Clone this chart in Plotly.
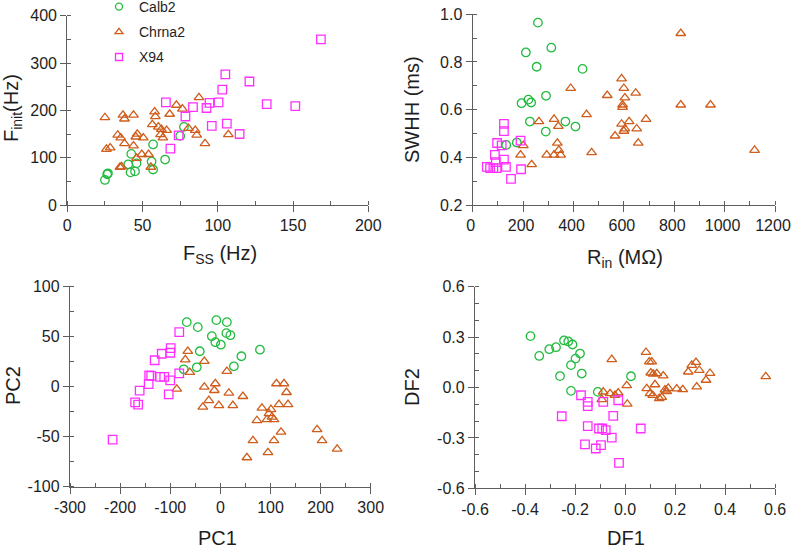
import plotly.graph_objects as go

# ---------------- data ----------------
groups = ["Calb2", "Chrna2", "X94"]

# Panel A: F_SS (Hz) vs F_init (Hz)
fss_calb2 = [25, 26.5, 27, 40.5, 42.5, 42, 45, 46, 56, 57, 57, 65, 75, 77.5]
finit_calb2 = [53, 65, 67, 86, 108, 69, 71, 88, 92, 128, 75, 96, 146, 165]
fss_chrna2 = [25, 37, 38, 44, 58, 58.5, 68, 72.5, 76.5, 87.5, 56.5, 60.5, 62.5, 66, 62, 63.5,
              33.5, 35.5, 46.5, 45.5, 50.5, 38, 44, 26, 28.5, 49.5, 54, 46, 35, 36, 55.5,
              80.5, 85, 86, 91.5, 107]
finit_chrna2 = [185, 190, 182, 190, 197, 187, 192, 211, 203, 227, 170, 165, 160, 158, 149, 142,
                148, 142, 150, 144, 142, 130, 125, 118, 121, 107, 107, 99, 80, 81, 80,
                162, 158, 148, 130, 149]
fss_x94 = [65.5, 68.5, 74, 78.5, 83.5, 92.5, 94.5, 100.5, 103, 105, 96, 106, 114.5, 121, 132.5, 151.5, 168.5]
finit_x94 = [217, 119, 147, 187, 207, 205, 216, 217, 244, 276, 167, 172, 150, 261, 213, 209, 350]

# Panel B: R_in (MOhm) vs SWHH (ms)
rin_calb2 = [259, 211, 312, 254, 436, 194, 221, 232, 291, 227, 368, 408, 290, 133, 175]
swhh_calb2 = [0.965, 0.840, 0.860, 0.780, 0.771, 0.627, 0.642, 0.630, 0.658, 0.550, 0.550, 0.529, 0.508, 0.452, 0.462]
rin_chrna2 = [826, 389, 263, 323, 340, 452, 336, 342, 349, 323, 294, 190, 201, 234, 472, 591, 600,
              534, 647, 604, 595, 595, 688, 621, 591, 604, 651, 600, 565, 657, 826, 944, 1119]
swhh_chrna2 = [0.92, 0.69, 0.55, 0.56, 0.53, 0.58, 0.46, 0.43, 0.41, 0.41, 0.41, 0.41, 0.45, 0.37, 0.42,
               0.73, 0.69, 0.66, 0.67, 0.65, 0.62, 0.61, 0.56, 0.55, 0.54, 0.52, 0.52, 0.51, 0.49, 0.46,
               0.62, 0.62, 0.43]
rin_x94 = [124, 124, 97, 115, 190, 88, 124, 92, 56, 69, 82, 95, 132, 192, 152]
swhh_x94 = [0.54, 0.51, 0.46, 0.45, 0.47, 0.41, 0.39, 0.38, 0.36, 0.355, 0.355, 0.355, 0.36, 0.35, 0.31]

# Panel C: PC1 vs PC2
pc1_calb2 = [-67, -45, -8, 13, 12, 20, -17, -10, 1, -41, 79, 42, 27, -47, -73]
pc2_calb2 = [64, 59, 66, 64, 53, 51, 50, 44, 41.5, 35, 36.5, 30, 20, 19, 17]
pc1_chrna2 = [-65, -70, -32, -61, 13, -87, -32, -10, -12, -35, -23, -3, 17, 25, 45, 83, 73, 97, 103,
              93, 107, 117, 135, 101, 112, 127, 132, 121, 107, 65, 53, 95, 193, 203, 233]
pc2_chrna2 = [35, 26.6, 25, 14, 15, -2.7, -0.7, 2.7, -4, -20.6, -14, -19, -6.6, -19, -10, -21.6, -34,
              -27, -30.5, -33, -33, -18, -18, -23, 2.7, 2.7, -6, -45.5, -54, -54, -71, -66, -43, -54, -62.5]
pc1_x94 = [-82, -99, -100, -117, -131, -142, -138, -143, -120, -112, -100, -82, -103, -161, -170, -164, -215]
pc2_x94 = [54, 38, 33.5, 32.5, 26, 11, 10.5, 2.3, 9.5, 9.5, 6, 13, -8, -4.3, -16, -18.3, -53]

# Panel D: DF1 vs DF2
df1_calb2 = [-0.378, -0.343, -0.303, -0.276, -0.244, -0.227, -0.210, -0.180, -0.198, -0.216,
             -0.173, -0.260, -0.216, -0.109, 0.024]
df2_calb2 = [0.306, 0.188, 0.228, 0.240, 0.280, 0.274, 0.256, 0.202, 0.172, 0.133,
             0.083, 0.068, -0.020, -0.026, 0.067]
df1_chrna2 = [-0.053, -0.093, -0.087, -0.06, -0.04, -0.027, 0.007, 0.009, 0.084, 0.097, 0.107, 0.103,
              0.113, 0.127, 0.153, 0.12, 0.087, 0.1, 0.111, 0.137, 0.147, 0.16, 0.167, 0.173, 0.207,
              0.231, 0.253, 0.267, 0.284, 0.297, 0.287, 0.324, 0.34, 0.563]
df2_chrna2 = [0.167, -0.071, -0.026, -0.036, -0.046, -0.032, 0.012, -0.098, 0.21, 0.153, 0.153, 0.087,
              0.08, 0.083, 0.07, 0.017, -0.006, -0.036, -0.046, -0.065, -0.058, -0.014, -0.024, -0.004,
              -0.008, -0.012, 0.093, 0.133, 0.15, 0.103, 0.004, 0.044, 0.085, 0.065]
df1_x94 = [-0.176, -0.149, -0.149, -0.087, -0.027, -0.253, -0.047, -0.149, -0.104, -0.091, -0.077,
           -0.053, -0.160, -0.096, -0.117, -0.024, 0.063]
df2_x94 = [-0.046, -0.086, -0.111, -0.086, -0.076, -0.171, -0.169, -0.230, -0.244, -0.244, -0.254,
           -0.298, -0.338, -0.343, -0.363, -0.449, -0.244]

# tick labels
ticks_a_x = [0, 50, 100, 150, 200]
ticks_a_y = [0, 100, 200, 300, 400]
ticks_b_x = [0, 200, 400, 600, 800, 1000, 1200]
ticks_b_y = [0.2, 0.4, 0.6, 0.8, 1.0]
ticks_c_x = [-300, -200, -100, 0, 100, 200, 300]
ticks_c_y = [-100, -50, 0, 50, 100]
ticks_d_x = [-0.6, -0.4, -0.2, 0.0, 0.2, 0.4, 0.6]
ticks_d_y = [-0.6, -0.3, 0.0, 0.3, 0.6]

# ---------------- style ----------------
W, H = 792, 550
COL = {"Calb2": "#22bb3f", "Chrna2": "#cf5d1c", "X94": "#ff30ff"}
SYM = {"Calb2": "circle-open", "Chrna2": "triangle-up-open", "X94": "square-open"}
SIZE = {"Calb2": 8.5, "Chrna2": 8.5, "X94": 8.5}
AX = "#5e5e5e"
TXT = "#1e1e1e"
FONT = "Arial, 'Liberation Sans', sans-serif"


def fmt(v, dec):
    return f"{v:.{dec}f}"  # plain hyphen minus like the reference


panels = [
    ("", {"Calb2": (fss_calb2, finit_calb2), "Chrna2": (fss_chrna2, finit_chrna2), "X94": (fss_x94, finit_x94)},
     ticks_a_x, ticks_a_y, 0, 0, 25, 50, (67.3, 368.3), (15.7, 205.0)),
    ("2", {"Calb2": (rin_calb2, swhh_calb2), "Chrna2": (rin_chrna2, swhh_chrna2), "X94": (rin_x94, swhh_x94)},
     ticks_b_x, ticks_b_y, 0, 1, 100, 0.1, (472.7, 775.0), (14.3, 205.0)),
    ("3", {"Calb2": (pc1_calb2, pc2_calb2), "Chrna2": (pc1_chrna2, pc2_chrna2), "X94": (pc1_x94, pc2_x94)},
     ticks_c_x, ticks_c_y, 0, 0, 50, 25, (70.0, 370.7), (286.0, 486.7)),
    ("4", {"Calb2": (df1_calb2, df2_calb2), "Chrna2": (df1_chrna2, df2_chrna2), "X94": (df1_x94, df2_x94)},
     ticks_d_x, ticks_d_y, 1, 1, 0.1, 0.1, (475.0, 775.0), (286.7, 488.3)),
]

fig = go.Figure()
layout = {}
for suf, data, xt, yt, xdec, ydec, xmin, ymin, pxx, pxy in panels:
    for g in groups:
        xs, ys = data[g]
        fig.add_trace(go.Scatter(
            x=xs, y=ys, mode="markers", name=g, showlegend=False,
            xaxis="x" + suf, yaxis="y" + suf,
            marker=dict(symbol=SYM[g], size=SIZE[g], color=COL[g], line=dict(width=1.3, color=COL[g])),
        ))
    common = dict(showline=True, linecolor=AX, linewidth=1.3, ticks="outside", ticklen=6,
                  tickwidth=1.3, tickcolor=AX, showgrid=False, zeroline=False, automargin=False,
                  ticklabeloverflow="allow",
                  tickfont=dict(size=16, color=TXT, family=FONT), mirror=False)
    xd = [pxx[0] / W, pxx[1] / W]
    yd = [1 - pxy[1] / H, 1 - pxy[0] / H]
    layout["xaxis" + suf] = dict(common, domain=xd, range=[xt[0], xt[-1]], anchor="y" + suf,
                                 tickmode="array", tickvals=xt, ticktext=[fmt(v, xdec) for v in xt],
                                 minor=dict(dtick=xmin, tick0=xt[0], ticks="inside", ticklen=4,
                                            tickwidth=1.2, tickcolor=AX, showgrid=False))
    layout["yaxis" + suf] = dict(common, domain=yd, range=[yt[0], yt[-1]], anchor="x" + suf,
                                 tickmode="array", tickvals=yt, ticktext=[fmt(v, ydec) for v in yt],
                                 minor=dict(dtick=ymin, tick0=yt[0], ticks="inside", ticklen=4,
                                            tickwidth=1.2, tickcolor=AX, showgrid=False))

# keep the "1200" label inside the picture, as in the reference
layout["xaxis2"]["ticklabelshift"] = -2

# legend-only traces (smaller symbols as in the reference legend)
for g in groups:
    fig.add_trace(go.Scatter(
        x=[None], y=[None], mode="markers", name=g, showlegend=True, legendgroup=g,
        marker=dict(symbol=SYM[g], size=7, color=COL[g], line=dict(width=1.3, color=COL[g])),
    ))

# axis titles
titles = [
    ("F<sub>SS</sub> (Hz)", 220, 254, 0),
    ("F<sub>init</sub>(Hz)", 13, 108, -90),
    ("R<sub>in</sub> (M\u03a9)", 625, 258, 0),
    ("SWHH (ms)", 412, 110, -90),
    ("PC1", 217, 538, 0),
    ("PC2", 13, 386, -90),
    ("DF1", 626, 538, 0),
    ("DF2", 412, 387, -90),
]
annotations = []
for text, px, py, ang in titles:
    annotations.append(dict(text=text, x=px / W, y=1 - py / H, xref="paper", yref="paper",
                            xanchor="center", yanchor="middle", showarrow=False, textangle=ang,
                            font=dict(size=20, color=TXT, family=FONT)))

fig.update_layout(
    **layout,
    width=W, height=H,
    margin=dict(l=0, r=0, t=0, b=0, autoexpand=False),
    paper_bgcolor="white", plot_bgcolor="white",
    font=dict(family=FONT, color=TXT),
    annotations=annotations,
    showlegend=True,
    legend=dict(x=99 / W, y=1 + 9 / H, xanchor="left", yanchor="top", bgcolor="rgba(0,0,0,0)",
                font=dict(size=14, color=TXT, family=FONT), traceorder="grouped",
                tracegroupgap=4, itemwidth=30),
)

fig.write_html("out.html", config={"displayModeBar": False},
               post_script="document.body.style.margin='0';document.body.style.overflow='hidden';")
